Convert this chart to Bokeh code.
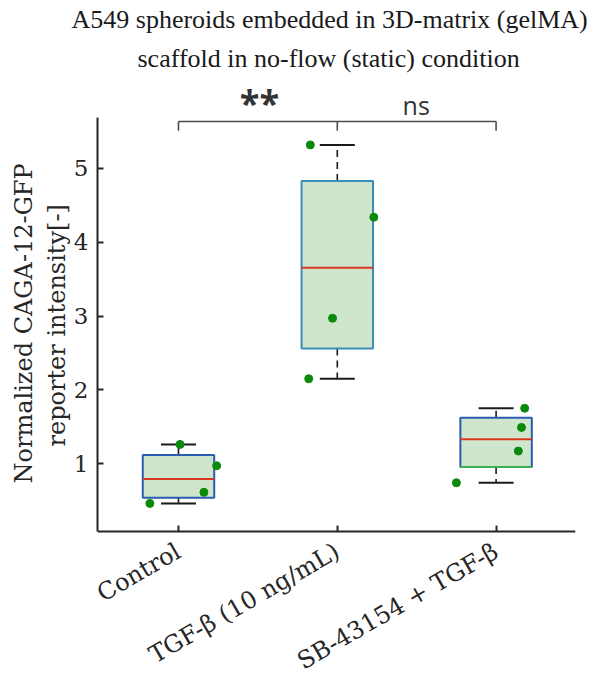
import numpy as np
from bokeh.plotting import figure
from bokeh.models import Range1d, FixedTicker, ColumnDataSource, Title
from bokeh.embed import file_html
from bokeh.resources import INLINE

# ---- data ----
groups = ["Control", "TGF-β (10 ng/mL)", "SB-43154 + TGF-β"]
control = [1.26, 0.97, 0.61, 0.46]
tgf = [5.32, 4.34, 2.97, 2.15]
sb = [1.75, 1.49, 1.17, 0.74]
control_jitter = [0.01, 0.24, 0.16, -0.18]
tgf_jitter = [-0.17, 0.23, -0.03, -0.18]
sb_jitter = [0.18, 0.16, 0.14, -0.25]
y_ticks = [1, 2, 3, 4, 5]
sig_labels = ["**", "ns"]
title_lines = ["A549 spheroids embedded in 3D-matrix (gelMA)",
               "scaffold in no-flow (static) condition"]
y_label_lines = ["Normalized CAGA-12-GFP", "reporter intensity[-]"]

series = [control, tgf, sb]
jitters = [control_jitter, tgf_jitter, sb_jitter]
xs = [1, 2, 3]

# box statistics (MATLAB-style percentiles)
q1 = [float(np.percentile(s, 25, method="hazen")) for s in series]
med = [float(np.median(s)) for s in series]
q3 = [float(np.percentile(s, 75, method="hazen")) for s in series]
lo = [min(s) for s in series]
hi = [max(s) for s in series]

bw = 0.225
cw = 0.11
edge_colors = ["#2a5db0", "#3a8db5", "#2a5db0"]

src = ColumnDataSource(dict(
    x=xs, left=[x - bw for x in xs], right=[x + bw for x in xs],
    cl=[x - cw for x in xs], cr=[x + cw for x in xs],
    q1=q1, q3=q3, med=med, lo=lo, hi=hi, edge=edge_colors))

y_bottom, y_axis_top = 0.08, 5.69
p = figure(width=603, height=677,
           x_range=Range1d(0.49, 3.5), y_range=Range1d(-1.9, 6.22),
           output_backend="svg", toolbar_location=None,
           min_border_left=97, min_border_right=28,
           min_border_top=78, min_border_bottom=0)
p.grid.visible = False
p.outline_line_color = None
p.background_fill_color = "white"
p.border_fill_color = "white"

# title (two lines)
p.title.text = title_lines[0]
p.title.align = "left"
p.title.offset = -26
p.title.text_font = "Liberation Serif"
p.title.text_font_size = "26px"
p.title.text_font_style = "normal"
p.title.text_color = "#1a1a1a"
p.title.standoff = 4
p.add_layout(Title(text=title_lines[1], align="left", offset=40,
                   text_font="Liberation Serif", text_font_size="26px",
                   text_font_style="normal", text_color="#1a1a1a", standoff=12), "above")

# whiskers
p.segment(x0="x", y0="q3", x1="x", y1="hi", source=src, line_color="#1a1a1a",
          line_width=1.6, line_dash="7 5")
p.segment(x0="x", y0="q1", x1="x", y1="lo", source=src, line_color="#1a1a1a",
          line_width=1.6, line_dash="7 5")
p.segment(x0="cl", y0="hi", x1="cr", y1="hi", source=src, line_color="#1a1a1a", line_width=2)
p.segment(x0="cl", y0="lo", x1="cr", y1="lo", source=src, line_color="#1a1a1a", line_width=2)

# boxes
p.quad(left="left", right="right", bottom="q1", top="q3", source=src,
       fill_color="#cfe6cd", line_color="edge", line_width=2)
p.segment(x0=[xs[2] - bw], y0=[q1[2]], x1=[xs[2] + bw], y1=[q1[2]],
          line_color="#3cb050", line_width=2)
p.segment(x0="left", y0="med", x1="right", y1="med", source=src,
          line_color="#d9381e", line_width=2)

# points
for x, s, j in zip(xs, series, jitters):
    p.scatter(x=[x + d for d in j], y=s, size=8, color="#0a8a0a", line_color="#0a8a0a")

# significance bracket
sig_y = 5.637
drop = 0.126
p.segment(x0=[1], y0=[sig_y], x1=[3], y1=[sig_y], line_color="#4d4d4d", line_width=1.6)
p.segment(x0=xs, y0=[sig_y] * 3, x1=xs, y1=[sig_y - drop] * 3, line_color="#4d4d4d", line_width=1.6)

p.text(x=[1.51], y=[5.90], text=[sig_labels[0]], text_align="center",
       text_baseline="middle", text_font={"value": "Open Sans"}, text_font_size="36px",
       text_font_style="bold", text_color="#333333")
p.text(x=[2.497], y=[5.86], text=[sig_labels[1]], text_align="center",
       text_baseline="middle", text_font={"value": "Open Sans"}, text_font_size="25px",
       text_color="#333333")

# axes
for ax in (p.xaxis[0], p.yaxis[0]):
    ax.axis_line_color = "#262626"
    ax.axis_line_width = 2
    ax.major_tick_line_color = "#262626"
    ax.major_tick_line_width = 2
    ax.major_tick_in = 6
    ax.major_tick_out = 0
    ax.minor_tick_line_color = None
    ax.major_label_text_font = "DejaVu Serif"
    ax.major_label_text_color = "#262626"

p.xaxis.ticker = FixedTicker(ticks=xs)
p.xaxis.fixed_location = y_bottom
p.xaxis.major_label_overrides = {x: g for x, g in zip(xs, groups)}
p.xaxis.major_label_orientation = np.pi / 6
p.xaxis.major_label_standoff = 18
p.xaxis.major_label_text_font_size = "24px"

p.yaxis.ticker = FixedTicker(ticks=y_ticks)
p.yaxis.bounds = (y_bottom, y_axis_top)
p.yaxis.major_label_standoff = 9
p.yaxis.major_label_text_font_size = "23px"

# y-axis label, two lines, as left-side titles (inner line first)
p.add_layout(Title(text=y_label_lines[1], align="left", offset=231,
                   text_font="DejaVu Serif", text_font_size="24px",
                   text_font_style="normal", text_color="#262626", standoff=0), "left")
p.add_layout(Title(text=y_label_lines[0], align="left", offset=194,
                   text_font="DejaVu Serif", text_font_size="24px",
                   text_font_style="normal", text_color="#262626", standoff=6), "left")

open("out.html", "w").write(file_html(p, INLINE))
